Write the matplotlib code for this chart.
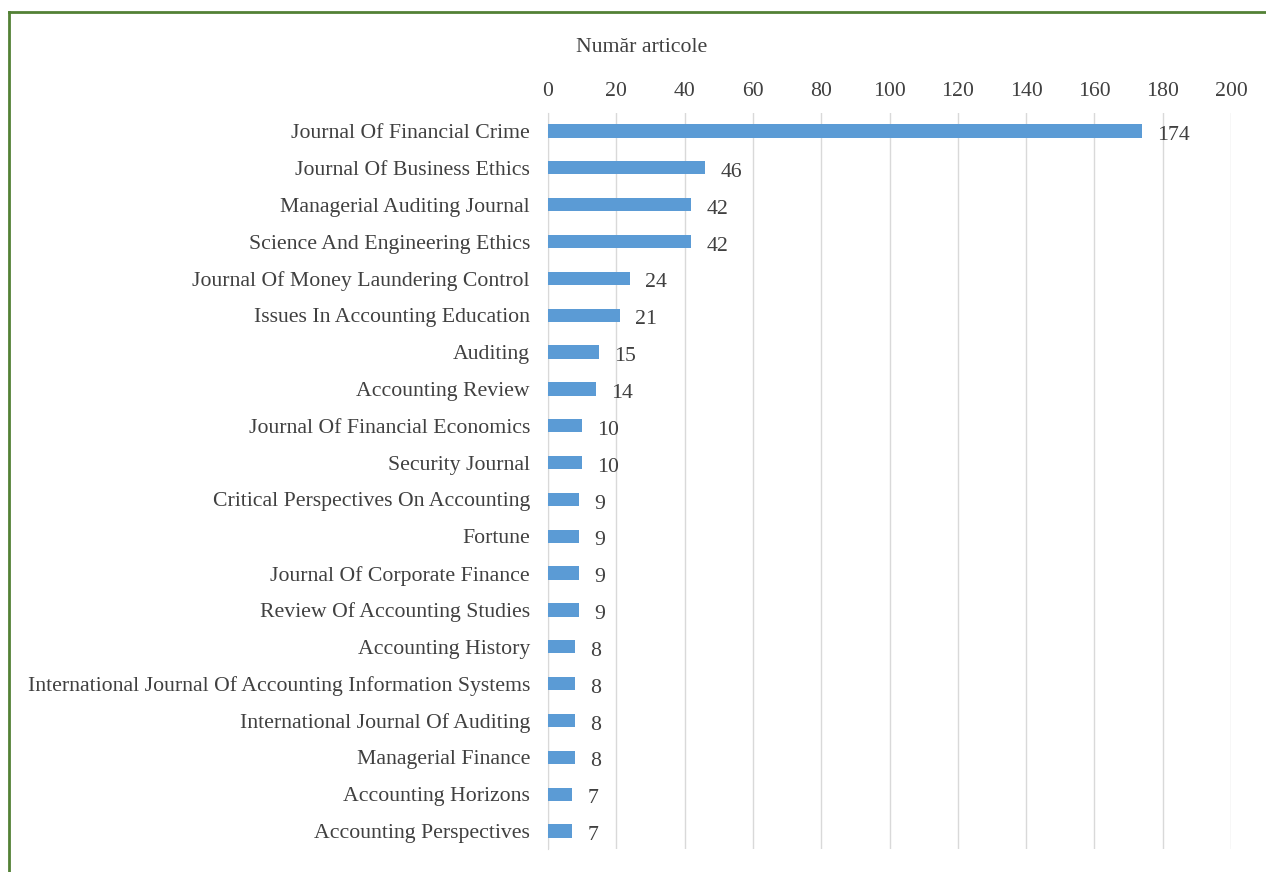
import matplotlib
matplotlib.use("Agg")
import matplotlib.pyplot as plt
from matplotlib.lines import Line2D

journals = [
    "Journal Of Financial Crime",
    "Journal Of Business Ethics",
    "Managerial Auditing Journal",
    "Science And Engineering Ethics",
    "Journal Of Money Laundering Control",
    "Issues In Accounting Education",
    "Auditing",
    "Accounting Review",
    "Journal Of Financial Economics",
    "Security Journal",
    "Critical Perspectives On Accounting",
    "Fortune",
    "Journal Of Corporate Finance",
    "Review Of Accounting Studies",
    "Accounting History",
    "International Journal Of Accounting Information Systems",
    "International Journal Of Auditing",
    "Managerial Finance",
    "Accounting Horizons",
    "Accounting Perspectives",
]
articles = [174, 46, 42, 42, 24, 21, 15, 14, 10, 10, 9, 9, 9, 9, 8, 8, 8, 8, 7, 7]
xticks = [0, 20, 40, 60, 80, 100, 120, 140, 160, 180, 200]
xlabel = "Număr articole"

plt.rcParams['font.family'] = ['Liberation Serif', 'DejaVu Serif']

W, H = 1266, 872
FS = 15.7
TXT = "#404040"
fig = plt.figure(figsize=(W / 100, H / 100), dpi=100)
ax = fig.add_axes([548 / W, 1 - 849.4 / H, (1231 - 548) / W, (849.4 - 112.6) / H])

ypos = list(range(len(journals)))
ax.barh(ypos, articles, height=0.36, color="#5B9BD5", zorder=3)
ax.set_ylim(len(journals) - 0.5, -0.5)
ax.set_xlim(0, 200)
ax.set_yticks(ypos)
ax.set_yticklabels(journals, fontsize=FS, color=TXT)
ax.set_xticks(xticks)
ax.set_xticklabels([str(t) for t in xticks], fontsize=FS, color=TXT)
ax.xaxis.tick_top()
ax.tick_params(axis="both", length=0)
ax.tick_params(axis="x", pad=8)
ax.tick_params(axis="y", pad=13)
for lbl in ax.get_yticklabels():
    lbl.set_va("center_baseline")
ax.grid(axis="x", color="#d9d9d9", linewidth=1, zorder=0)
for s in ["top", "right", "bottom"]:
    ax.spines[s].set_visible(False)
ax.spines["left"].set_color("#d9d9d9")

for y, v in zip(ypos, articles):
    ax.annotate(str(v), xy=(v, y), xytext=(11, -1.5), textcoords="offset points",
                ha="left", va="center_baseline", fontsize=FS, color=TXT)

fig.text(642 / W, 1 - 48 / H, xlabel, ha="center", va="center", fontsize=FS, color=TXT)

green = "#538135"
fig.add_artist(Line2D([9 / W, 9 / W], [0, 1 - 12 / H], transform=fig.transFigure, color=green, linewidth=2))
fig.add_artist(Line2D([9 / W, 1], [1 - 12 / H, 1 - 12 / H], transform=fig.transFigure, color=green, linewidth=2))

fig.savefig("out.png", dpi=100)
